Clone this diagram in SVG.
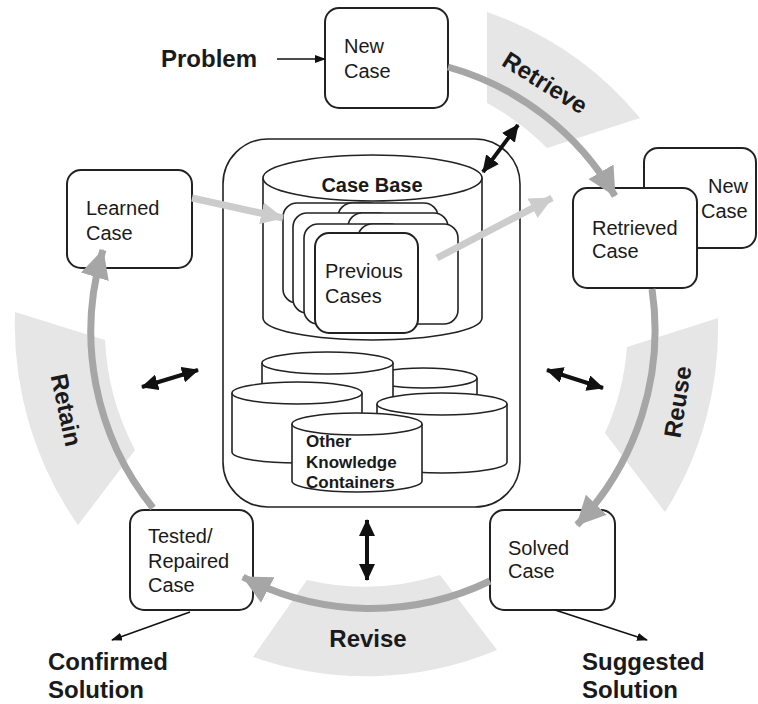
<svg xmlns="http://www.w3.org/2000/svg" width="758" height="704" viewBox="0 0 758 704">
<style>
text{font-family:"Liberation Sans",Arial,sans-serif;fill:#1a1a1a}
.t{font-size:20px}
.b{font-size:24px;font-weight:bold}
.band{fill:#e6e6e6;stroke:none}
.box{fill:#fff;stroke:#222;stroke-width:2}
.cyl{fill:#fff;stroke:#222;stroke-width:1.6}
.cycle{fill:none;stroke:#a6a6a6;stroke-width:7;marker-end:url(#gh)}
.light{fill:none;stroke:#cccccc;stroke-width:7;marker-end:url(#lh)}
.dbl{fill:none;stroke:#111;stroke-width:4;marker-start:url(#bh);marker-end:url(#bh)}
.thin{fill:none;stroke:#111;stroke-width:1.5;marker-end:url(#th)}
</style>
<defs>
<marker id="gh" markerUnits="userSpaceOnUse" markerWidth="29" markerHeight="29" viewBox="0 0 29 29" refX="28" refY="14.5" orient="auto"><path d="M0,0 L29,14.5 L0,29 Z" fill="#a6a6a6"/></marker>
<marker id="lh" markerUnits="userSpaceOnUse" markerWidth="23" markerHeight="22" viewBox="0 0 23 22" refX="22" refY="11" orient="auto"><path d="M0,0 L23,11 L0,22 Z" fill="#cccccc"/></marker>
<marker id="bh" markerUnits="userSpaceOnUse" markerWidth="17" markerHeight="16" viewBox="0 0 17 16" refX="16" refY="8" orient="auto-start-reverse"><path d="M0,0 L17,8 L0,16 Z" fill="#111"/></marker>
<marker id="th" markerUnits="userSpaceOnUse" markerWidth="11" markerHeight="8" viewBox="0 0 11 8" refX="10" refY="4" orient="auto"><path d="M0,0 L11,4 L0,8 Z" fill="#111"/></marker>
</defs>

<g id="bands">
<path class="band" d="M487,12 A345,345 0 0 1 640,118 L547,148 A258,258 0 0 0 487,103 Z"/>
<path class="band" d="M718,318 A346,346 0 0 1 665,512 L605,433 A256,256 0 0 0 627,347 Z"/>
<path class="band" d="M497,650 A340,340 0 0 1 253,657 L307,580 A252,252 0 0 0 440,575 Z"/>
<path class="band" d="M78,525 A350,350 0 0 1 15,312 L105,340 A263,263 0 0 0 135,450 Z"/>
<text class="b" text-anchor="middle" transform="translate(545,83) rotate(32)" y="8">Retrieve</text>
<text class="b" text-anchor="middle" transform="translate(678,402) rotate(-81)" y="8">Reuse</text>
<text class="b" text-anchor="middle" x="368" y="647">Revise</text>
<text class="b" text-anchor="middle" transform="translate(66,410) rotate(78)" y="8">Retain</text>
</g>

<g id="knowledge-base">
<rect class="cyl" x="223" y="139" width="297" height="368" rx="45"/>
<g id="case-base">
<path class="cyl" d="M263,178 L263,318 A109.5,22 0 0 0 482,318 L482,178"/>
<ellipse class="cyl" cx="372.5" cy="178" rx="109.5" ry="23"/>
<text class="t" x="372" y="192" text-anchor="middle" font-weight="bold">Case Base</text>
</g>
<g id="previous-cases">
<rect class="cyl" x="283" y="203" width="100" height="100" rx="14"/>
<rect class="cyl" x="338" y="203" width="100" height="100" rx="14"/>
<rect class="cyl" x="293" y="213" width="100" height="100" rx="14"/>
<rect class="cyl" x="348" y="213" width="100" height="100" rx="14"/>
<rect class="cyl" x="304" y="224" width="100" height="100" rx="14"/>
<rect class="cyl" x="358" y="224" width="100" height="100" rx="14"/>
<rect class="box" x="315" y="233" width="103" height="100" rx="14"/>
<text class="t" x="325" y="278">Previous</text>
<text class="t" x="325" y="303">Cases</text>
</g>
<g id="other-knowledge">
<path class="cyl" d="M370,378 L370,440 A53.5,10 0 0 0 477,440 L477,378"/>
<ellipse class="cyl" cx="423.5" cy="378" rx="53.5" ry="10"/>
<path class="cyl" d="M262,363 L262,430 A65.5,11 0 0 0 393,430 L393,363"/>
<ellipse class="cyl" cx="327.5" cy="363" rx="65.5" ry="11"/>
<path class="cyl" d="M232,393 L232,452 A65,11 0 0 0 362,452 L362,393"/>
<ellipse class="cyl" cx="297" cy="393" rx="65" ry="11"/>
<path class="cyl" d="M377,404 L377,462 A65,11 0 0 0 507,462 L507,404"/>
<ellipse class="cyl" cx="442" cy="404" rx="65" ry="11"/>
<path class="cyl" d="M292,424 L292,481 A65,11 0 0 0 422,481 L422,424"/>
<ellipse class="cyl" cx="357" cy="424" rx="65" ry="11"/>
<text x="306" y="447" font-size="17" font-weight="bold">Other</text>
<text x="306" y="468" font-size="17" font-weight="bold">Knowledge</text>
<text x="306" y="488" font-size="17" font-weight="bold">Containers</text>
</g>
</g>

<g id="new-case">
<rect class="box" x="325" y="8" width="123" height="100" rx="14"/>
<text class="t" x="344" y="53">New</text>
<text class="t" x="344" y="78">Case</text>
</g>
<g id="new-case-copy">
<rect class="box" x="644" y="148" width="112" height="100" rx="14"/>
<text class="t" x="708" y="193">New</text>
<text class="t" x="701" y="218">Case</text>
</g>
<g id="retrieved-case">
<rect class="box" x="573" y="188" width="124" height="100" rx="14"/>
<text class="t" x="592" y="235">Retrieved</text>
<text class="t" x="592" y="258">Case</text>
</g>
<g id="solved-case">
<rect class="box" x="490" y="510" width="125" height="100" rx="14"/>
<text class="t" x="508" y="555">Solved</text>
<text class="t" x="508" y="578">Case</text>
</g>
<g id="tested-case">
<rect class="box" x="130" y="510" width="123" height="100" rx="14"/>
<text class="t" x="148" y="543">Tested/</text>
<text class="t" x="148" y="568">Repaired</text>
<text class="t" x="148" y="592">Case</text>
</g>
<g id="learned-case">
<rect class="box" x="67" y="170" width="125" height="98" rx="14"/>
<text class="t" x="86" y="215">Learned</text>
<text class="t" x="86" y="240">Case</text>
</g>

<g id="problem"><text class="b" x="161" y="67">Problem</text></g>
<g id="suggested-solution"><text class="b" x="582" y="670">Suggested</text><text class="b" x="582" y="698">Solution</text></g>
<g id="confirmed-solution"><text class="b" x="48" y="670">Confirmed</text><text class="b" x="48" y="698">Solution</text></g>

<g id="connectors">
<path class="cycle" d="M448,67 A280,280 0 0 1 615,196"/>
<path class="cycle" d="M652,289 A282,282 0 0 1 577,525"/>
<path class="cycle" d="M490,581 A274,274 0 0 1 243,577"/>
<path class="cycle" d="M153,508 A281,281 0 0 1 103,250"/>
<path class="light" d="M192,198 L283,218"/>
<path class="light" d="M437,258 L552,198"/>
<path class="dbl" d="M483,172 L518,125"/>
<path class="dbl" d="M142,387 L198,370"/>
<path class="dbl" d="M547,370 L603,388"/>
<path class="dbl" d="M367,520 L367,580"/>
<path class="thin" d="M277,59 L325,59"/>
<path class="thin" d="M555,610 L647,640"/>
<path class="thin" d="M190,612 L112,640"/>
</g>
</svg>
